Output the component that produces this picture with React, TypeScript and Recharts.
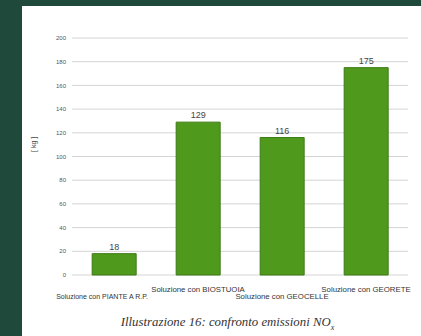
import { Bar, BarChart, CartesianGrid, LabelList, XAxis, YAxis } from "recharts";

const categories = [
    "Soluzione con PIANTE A R.P.",
    "Soluzione con BIOSTUOIA",
    "Soluzione con GEOCELLE",
    "Soluzione con GEORETE"
];
const emissions = [18, 129, 116, 175];
const yTicks = [0, 20, 40, 60, 80, 100, 120, 140, 160, 180, 200];

const data = categories.map((name, i) => ({ name, value: emissions[i] }));

// staggered category labels: first and third sit one line lower
function StaggeredTick(props: any) {
    const { x, y, payload, index } = props;
    const low = index % 2 === 0;
    return (
        <text
            x={index === 0 ? x - 12 : x}
            y={y + (low ? 15.5 : 9)}
            textAnchor="middle"
            fontSize={index === 0 ? 7 : 7.8}
            fill="#333"
            fontFamily="Liberation Sans, Arial, sans-serif"
        >
            {payload.value}
        </text>
    );
}

export default function App() {
    return (
        <div
            style={{
                position: "absolute",
                left: 0,
                top: 0,
                width: 421,
                height: 336,
                background: "#1f4a3b",
                overflow: "hidden"
            }}
        >
            <div
                style={{
                    position: "absolute",
                    left: 22,
                    top: 6,
                    width: 399,
                    height: 330,
                    background: "#ffffff"
                }}
            />
            <div style={{ position: "absolute", left: 0, top: 0 }}>
                <BarChart
                    width={421}
                    height={336}
                    data={data}
                    margin={{ top: 38, right: 13, bottom: 0, left: 52 }}
                    barCategoryGap="24%"
                >
                    <CartesianGrid vertical={false} stroke="#d4d4d4" strokeWidth={1} />
                    <XAxis
                        dataKey="name"
                        axisLine={false}
                        tickLine={false}
                        tick={<StaggeredTick />}
                        interval={0}
                        height={61}
                    />
                    <YAxis
                        domain={[0, 200]}
                        ticks={yTicks}
                        axisLine={false}
                        tickLine={false}
                        tickSize={4}
                        tickMargin={2}
                        width={20}
                        tick={{ fontSize: 6, fill: "#555", fontFamily: "Liberation Sans, Arial, sans-serif" }}
                    />
                    <Bar
                        dataKey="value"
                        fill="#4f9a1c"
                        stroke="#3c7a14"
                        strokeWidth={1}
                        isAnimationActive={false}
                    >
                        <LabelList
                            dataKey="value"
                            position="top"
                            offset={4}
                            fontSize={9}
                            fill="#444"
                            fontFamily="Liberation Sans, Arial, sans-serif"
                        />
                    </Bar>
                </BarChart>
            </div>
            <div
                style={{
                    position: "absolute",
                    left: 30,
                    top: 152,
                    transform: "rotate(-90deg)",
                    transformOrigin: "left top",
                    fontSize: 7,
                    color: "#444",
                    fontFamily: "Liberation Sans, Arial, sans-serif",
                    whiteSpace: "nowrap"
                }}
            >
                [ kg ]
            </div>
            <div
                style={{
                    position: "absolute",
                    left: 28,
                    width: 399,
                    top: 315,
                    textAlign: "center",
                    fontSize: 12.8,
                    fontStyle: "italic",
                    color: "#333",
                    fontFamily: "Liberation Serif, Times New Roman, serif",
                    whiteSpace: "nowrap"
                }}
            >
                Illustrazione 16: confronto emissioni NO<sub style={{ fontSize: 8 }}>x</sub>
            </div>
        </div>
    );
}
